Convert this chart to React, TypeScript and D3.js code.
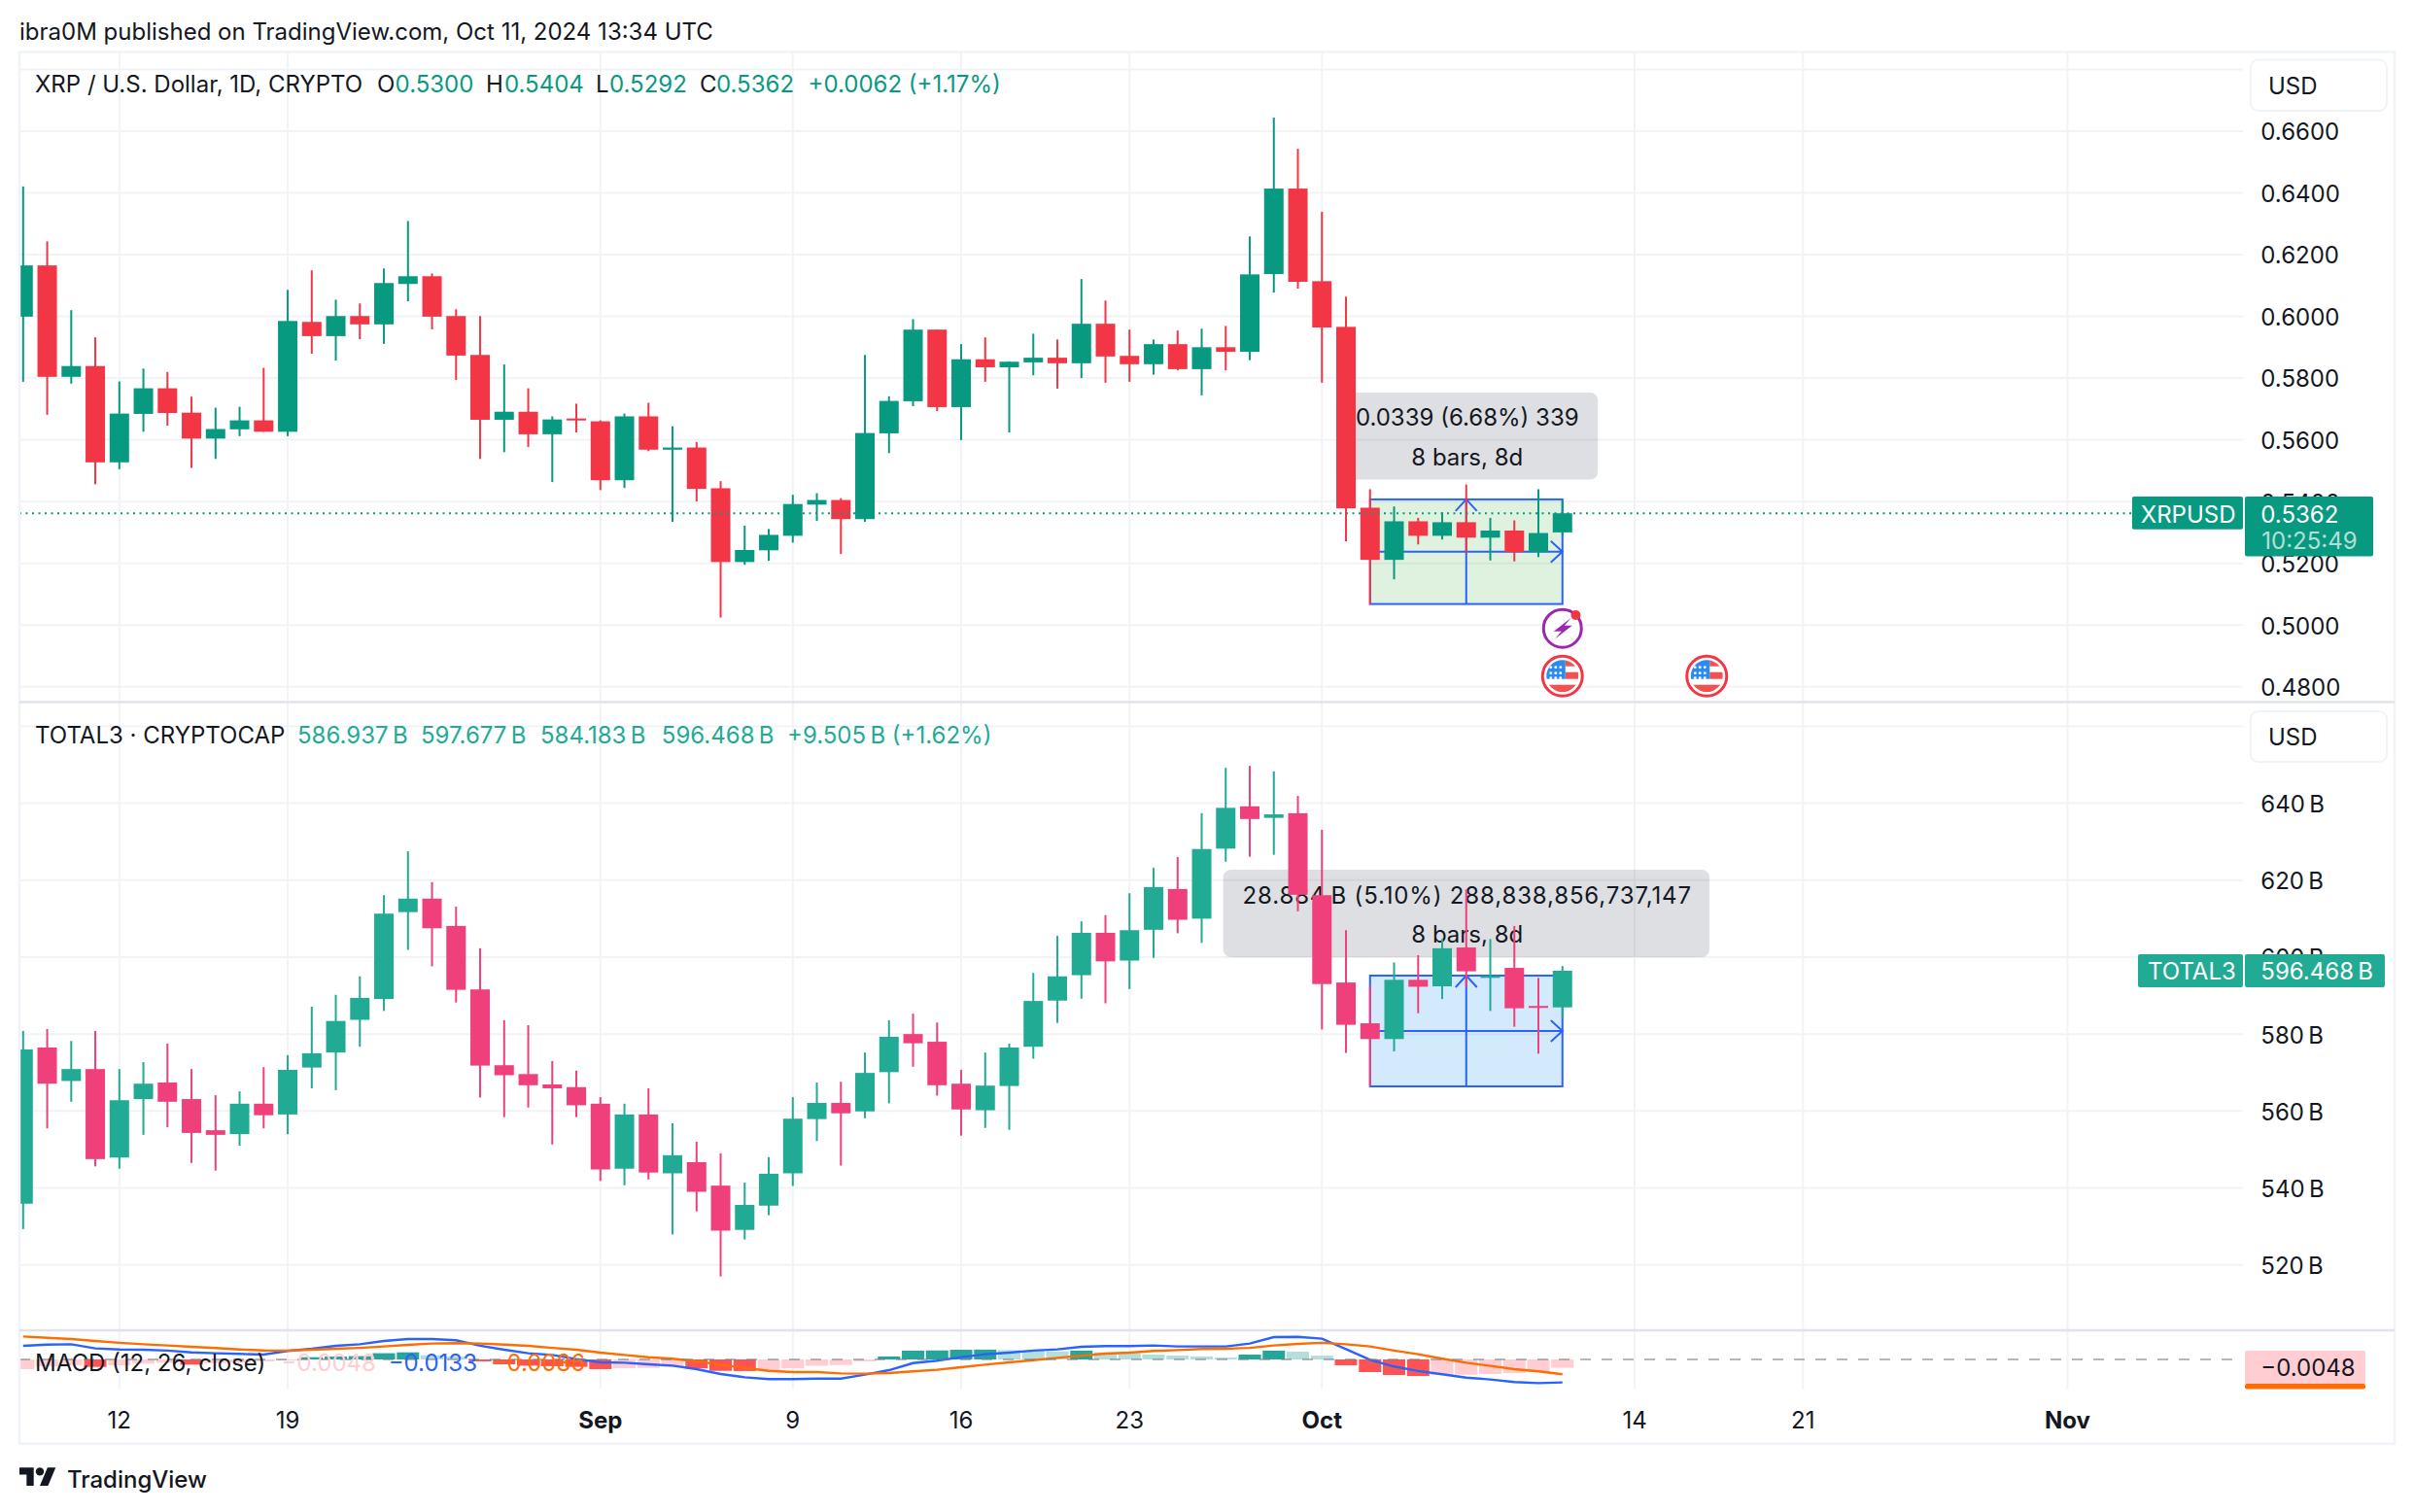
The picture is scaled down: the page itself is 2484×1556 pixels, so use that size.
import * as React from 'react'
import { useEffect, useRef } from 'react'
import * as d3 from 'd3'

const WIDTH = 2484
const HEIGHT = 1556
const FONT = 'Inter, "Noto Sans", sans-serif'

// day index 0 = Aug 8, 2024
const timeDays = [4, 11, 24, 32, 39, 46, 54, 67, 74, 85]
const timeLabels = ['12', '19', 'Sep', '9', '16', '23', 'Oct', '14', '21', 'Nov']
const monthLabels = ['Sep', 'Oct', 'Nov']

const xrpTicks = [0.68, 0.66, 0.64, 0.62, 0.6, 0.58, 0.56, 0.54, 0.52, 0.5, 0.48]
const total3Ticks = [660, 640, 620, 600, 580, 560, 540, 520]

const xrpOpen = [
  0.5999, 0.6165, 0.5804, 0.5839, 0.5527, 0.5684, 0.5767, 0.5688, 0.5604, 0.5634, 0.5663, 0.5626, 0.5982,
  0.5936, 0.6001, 0.5974, 0.6105, 0.613, 0.6001, 0.5875, 0.5665, 0.5691, 0.5618, 0.5669, 0.566, 0.5469,
  0.5676, 0.5568, 0.5575, 0.5443, 0.5204, 0.5242, 0.5289, 0.539, 0.5405, 0.5343, 0.5621, 0.5725, 0.5957,
  0.5706, 0.5861, 0.5835, 0.5851, 0.5866, 0.5848, 0.5976, 0.5872, 0.5845, 0.591, 0.5829, 0.59, 0.5885,
  0.6137, 0.6414, 0.6114, 0.5966, 0.538, 0.5211, 0.5336, 0.5289, 0.5333, 0.5283, 0.5306, 0.5236, 0.53,
]
const xrpHigh = [
  0.6421, 0.6243, 0.602, 0.5932, 0.5789, 0.5831, 0.582, 0.574, 0.5704, 0.5707, 0.5833, 0.6086, 0.6149,
  0.6054, 0.6042, 0.6155, 0.6309, 0.6139, 0.6023, 0.6001, 0.5844, 0.5767, 0.5676, 0.5717, 0.5663, 0.5685,
  0.572, 0.5644, 0.5593, 0.5466, 0.5322, 0.5311, 0.5422, 0.5427, 0.5411, 0.5875, 0.5741, 0.5991, 0.5957,
  0.591, 0.5932, 0.5854, 0.5944, 0.5925, 0.6121, 0.6051, 0.5957, 0.5925, 0.5954, 0.596, 0.5969, 0.6259,
  0.6644, 0.6543, 0.6339, 0.6064, 0.544, 0.5384, 0.5347, 0.5365, 0.5455, 0.5347, 0.5339, 0.544, 0.5404,
]
const xrpLow = [
  0.5788, 0.5681, 0.5782, 0.5456, 0.5505, 0.5626, 0.5646, 0.5509, 0.5538, 0.5612, 0.5626, 0.5612, 0.5879,
  0.5857, 0.5926, 0.5911, 0.6049, 0.5958, 0.5794, 0.5538, 0.556, 0.5577, 0.5463, 0.5624, 0.5437, 0.5444,
  0.5563, 0.5334, 0.54, 0.5024, 0.5195, 0.5208, 0.5267, 0.5337, 0.523, 0.5334, 0.5557, 0.5709, 0.5693,
  0.5599, 0.5788, 0.5624, 0.5809, 0.5766, 0.58, 0.5785, 0.5788, 0.5811, 0.5825, 0.5744, 0.5825, 0.5858,
  0.6077, 0.609, 0.5785, 0.5271, 0.5066, 0.5148, 0.5261, 0.5277, 0.5234, 0.5209, 0.5206, 0.522, 0.5292,
]
const xrpClose = [
  0.6165, 0.5804, 0.5839, 0.5527, 0.5685, 0.5767, 0.5687, 0.5604, 0.5635, 0.5663, 0.5626, 0.5985, 0.5936,
  0.6001, 0.5974, 0.6108, 0.613, 0.5999, 0.5873, 0.5665, 0.5691, 0.5618, 0.5666, 0.5663, 0.5469, 0.5676,
  0.5568, 0.5575, 0.5441, 0.5204, 0.5243, 0.5292, 0.5392, 0.5405, 0.5343, 0.5622, 0.5726, 0.5957, 0.5706,
  0.5861, 0.5835, 0.5853, 0.5866, 0.5848, 0.5976, 0.587, 0.5845, 0.591, 0.5829, 0.59, 0.5885, 0.6136,
  0.6414, 0.6112, 0.5964, 0.5378, 0.5211, 0.5336, 0.5289, 0.5333, 0.5283, 0.5306, 0.5236, 0.5298, 0.5362,
]

const total3Open = [
  535.9, 576.5, 567.8, 570.9, 547.9, 563.1, 567.4, 563.1, 555.0, 554.0, 561.9, 559.1, 571.3, 575.2, 583.7,
  589.1, 611.7, 615.2, 608.1, 591.6, 571.9, 569.6, 566.9, 566.2, 561.9, 545.0, 559.1, 543.8, 546.7, 540.6,
  529.1, 535.4, 543.8, 557.9, 562.1, 559.9, 570.1, 580.0, 578.0, 567.1, 560.2, 566.5, 576.7, 588.7, 595.3,
  606.3, 599.1, 607.1, 617.7, 610.0, 628.2, 639.2, 636.2, 637.4, 616.1, 593.4, 582.8, 578.7, 594.1, 592.4,
  602.5, 594.8, 597.2, 587.3, 586.937,
]
const total3High = [
  580.8, 581.3, 578.2, 580.8, 570.9, 572.7, 577.5, 570.9, 564.1, 565.1, 571.4, 574.5, 587.1, 590.2, 595.0,
  616.1, 627.5, 619.5, 613.1, 602.3, 583.6, 582.3, 573.0, 570.5, 563.6, 561.9, 565.9, 556.8, 552.0, 549.0,
  541.4, 548.0, 563.6, 567.4, 567.6, 575.2, 583.6, 585.3, 583.0, 570.7, 575.2, 577.5, 595.9, 605.5, 609.3,
  610.9, 616.6, 623.2, 626.0, 637.4, 649.2, 649.7, 648.3, 641.9, 633.1, 607.0, 592.5, 598.6, 600.5, 604.7,
  617.6, 604.7, 608.1, 594.6, 597.677,
]
const total3Low = [
  529.3, 555.5, 562.4, 545.6, 545.0, 553.8, 555.8, 546.5, 544.5, 551.0, 555.5, 554.0, 565.9, 565.4, 576.7,
  586.0, 601.9, 597.6, 588.2, 563.5, 558.4, 560.9, 551.3, 558.4, 541.8, 540.7, 542.2, 527.9, 533.9, 517.0,
  526.6, 532.9, 540.5, 552.2, 545.8, 558.1, 562.0, 571.5, 564.0, 553.6, 555.6, 555.1, 573.6, 582.9, 589.2,
  588.0, 591.7, 599.8, 606.2, 603.7, 624.8, 626.1, 626.6, 611.9, 581.2, 575.1, 566.5, 575.5, 585.4, 589.1,
  592.2, 586.0, 581.9, 574.9, 584.183,
]
const total3Close = [
  576.0, 567.1, 570.9, 547.5, 562.8, 567.1, 562.4, 554.3, 553.8, 561.9, 558.9, 570.7, 575.0, 583.4, 589.4,
  611.3, 615.2, 607.5, 591.5, 571.8, 569.3, 566.7, 565.9, 561.5, 544.8, 559.1, 544.0, 548.5, 539.0, 528.9,
  535.6, 543.7, 558.0, 562.1, 559.4, 569.9, 579.3, 577.6, 566.7, 560.4, 566.6, 576.5, 588.6, 595.0, 606.3,
  598.9, 607.0, 618.2, 609.7, 628.1, 638.8, 635.9, 637.1, 616.2, 593.0, 582.4, 578.7, 594.1, 592.3, 602.3,
  596.3, 595.1, 586.7, 586.8, 596.468,
]

const macdHist = [
  -0.0056, -0.004, -0.0034, -0.0043, -0.0034, -0.0024, -0.0019, -0.003, -0.0021, -0.0019, -0.0011, -0.0006,
  0.0013, 0.0017, 0.0019, 0.0036, 0.0041, 0.0024, 0.0017, -0.0011, -0.0028, -0.0036, -0.0039, -0.0043,
  -0.0056, -0.0051, -0.0049, -0.0043, -0.0052, -0.0066, -0.0067, -0.0064, -0.0052, -0.0037, -0.0032, -0.0011,
  0.0017, 0.0051, 0.0052, 0.0056, 0.0057, 0.0054, 0.0049, 0.0047, 0.0051, 0.0041, 0.0036, 0.0028, 0.0022,
  0.0017, 0.0011, 0.0028, 0.0051, 0.0045, 0.0022, -0.0034, -0.0073, -0.009, -0.0096, -0.009, -0.0088, -0.0084,
  -0.0079, -0.0073, -0.0048,
]
const macdLine = [
  0.0079, 0.0086, 0.0088, 0.0064, 0.0058, 0.0056, 0.0051, 0.0041, 0.0036, 0.0032, 0.0028, 0.0049, 0.0062,
  0.0079, 0.0088, 0.0107, 0.0118, 0.0118, 0.0111, 0.0079, 0.0056, 0.0036, 0.0026, 0.0002, -0.0017, -0.0019,
  -0.0028, -0.0036, -0.0056, -0.0084, -0.0103, -0.0114, -0.0114, -0.0111, -0.0111, -0.0088, -0.0062, -0.0021,
  -0.0007, 0.0013, 0.003, 0.0039, 0.0051, 0.0058, 0.0073, 0.0077, 0.0077, 0.0081, 0.0075, 0.0075, 0.0075,
  0.0092, 0.0129, 0.0131, 0.012, 0.006, -0.0002, -0.0041, -0.0067, -0.0086, -0.0105, -0.0116, -0.0131, -0.0137,
  -0.0133,
]
const signalLine = [
  0.0133, 0.0125, 0.0118, 0.0107, 0.0096, 0.0088, 0.0081, 0.0073, 0.0066, 0.0058, 0.0052, 0.0051, 0.0056,
  0.0062, 0.0067, 0.0075, 0.0084, 0.0092, 0.0094, 0.0092, 0.0086, 0.0079, 0.0067, 0.0056, 0.0039, 0.0026,
  0.0013, 0.0004, -0.0011, -0.003, -0.0049, -0.0066, -0.0073, -0.0073, -0.0081, -0.0082, -0.0079, -0.0069,
  -0.006, -0.0045, -0.003, -0.0017, -0.0004, 0.0009, 0.0022, 0.0034, 0.0039, 0.0049, 0.0054, 0.006, 0.0062,
  0.0067, 0.0081, 0.009, 0.0096, 0.0088, 0.0075, 0.0051, 0.003, 0.0004, -0.0019, -0.0037, -0.0056, -0.0069,
  -0.0086,
]

// measure tool: first and last bar, price from / to
const measureDays = [56, 64]
const xrpMeasure = [0.5068, 0.5407]
const total3Measure = [566.4, 595.2]
const eventDays = [64, 70]

type G = d3.Selection<SVGGElement, unknown, null, undefined>

function label(g: G, x: number, y: number, text: string, fill = '#131722', size = 24, weight = 400, anchor = 'start') {
  return g.append('text')
    .attr('x', x)
    .attr('y', y)
    .attr('dy', '.39em')
    .attr('fill', fill)
    .attr('font-size', size)
    .attr('font-weight', weight)
    .attr('text-anchor', anchor)
    .text(text)
}

export default function App() {
  const svgRef = useRef<SVGSVGElement>(null)

  useEffect(() => {
    if (!svgRef.current) return
    const svg = d3.select(svgRef.current)
    svg.selectAll('*').remove()
    const root = svg.append('g').attr('font-family', FONT) as unknown as G

    const left = 20
    const right = 2464
    const plotRight = 2308
    const top = 53.5
    const gridBottom = 1429.5
    const bottom = 1485.7
    const pane1Bottom = 722.5
    const pane2Bottom = 1369
    const axisX = 2326.3

    const x = d3.scaleLinear().domain([4, 85]).range([122.8, 2127.5])
    const yXrp = d3.scaleLinear().domain([0.66, 0.48]).range([135, 706.7])
    const yTotal = d3.scaleLinear().domain([640, 520]).range([826.6, 1301.7])
    const yMacd = d3.scaleLinear().domain([0, -0.0133]).range([1399, 1422.67])

    const defs = svg.append('defs')
    const clips: [string, number, number][] = [
      ['pane1', top, pane1Bottom],
      ['pane2', pane1Bottom + 1, pane2Bottom],
      ['pane3', pane2Bottom + 1, gridBottom],
    ]
    clips.forEach(([id, y0, y1]) => {
      defs.append('clipPath').attr('id', id).append('rect')
        .attr('x', left + 1).attr('y', y0).attr('width', plotRight - left - 1).attr('height', y1 - y0)
    })
    defs.append('clipPath').attr('id', 'flagClip').append('circle').attr('r', 16.5)

    // grid
    const grid = root.append('g').attr('stroke', '#f2f3f6').attr('stroke-width', 2)
    grid.selectAll('.v').data(timeDays).join('line')
      .attr('x1', d => x(d)).attr('x2', d => x(d)).attr('y1', top).attr('y2', gridBottom)
    const hGrid = (ticks: number[], y: d3.ScaleLinear<number, number>, clip: string) => {
      grid.append('g').attr('clip-path', `url(#${clip})`).selectAll('line').data(ticks).join('line')
        .attr('x1', left).attr('x2', plotRight).attr('y1', d => y(d)).attr('y2', d => y(d))
    }
    hGrid(xrpTicks, yXrp, 'pane1')
    hGrid(total3Ticks, yTotal, 'pane2')

    // measure tools sit under the candles
    const measure = (
      y: d3.ScaleLinear<number, number>, prices: number[], fill: string,
      box: number[], lines: string[], lineY: number[], spacing: number,
    ) => {
      const g = root.append('g')
      const x0 = x(measureDays[0])
      const x1 = x(measureDays[1])
      const xm = (x0 + x1) / 2
      const yTop = y(prices[1])
      const yBot = y(prices[0])
      const ym = (yTop + yBot) / 2
      g.append('rect').attr('x', x0).attr('y', yTop).attr('width', x1 - x0).attr('height', yBot - yTop)
        .attr('fill', fill).attr('stroke', '#2962ff').attr('stroke-width', 2)
      const stroke = g.append('g').attr('stroke', '#2962ff').attr('stroke-width', 2).attr('fill', 'none')
      stroke.append('path').attr('d', `M${xm},${yBot}V${yTop}M${xm - 11},${yTop + 12}L${xm},${yTop}L${xm + 11},${yTop + 12}`)
      stroke.append('path').attr('d', `M${x0},${ym}H${x1}M${x1 - 12},${ym - 11}L${x1},${ym}L${x1 - 12},${ym + 11}`)
      g.append('rect').attr('x', box[0]).attr('y', box[1]).attr('width', box[2]).attr('height', box[3]).attr('rx', 8)
        .attr('fill', 'rgba(30,35,55,0.14)')
        .style('filter', 'drop-shadow(0 2px 3px rgba(0,0,0,0.06))')
      label(g as G, xm + 1, lineY[0], lines[0], '#131722', 24, 400, 'middle').attr('letter-spacing', spacing)
      label(g as G, xm + 1, lineY[1], lines[1], '#131722', 24, 400, 'middle')
    }
    measure(yXrp, xrpMeasure, 'rgba(76,175,80,0.18)', [1375.3, 404, 268.9, 89.5],
      ['0.0339 (6.68%) 339', '8 bars, 8d'], [429, 470], 0)
    measure(yTotal, total3Measure, 'rgba(33,150,243,0.2)', [1258.6, 895, 500.4, 90],
      ['28.884\u202fB (5.10%) 288,838,856,737,147', '8 bars, 8d'], [920.7, 961], 0.85)

    // candles
    const candles = (
      clip: string, y: d3.ScaleLinear<number, number>,
      open: number[], high: number[], low: number[], close: number[], up: string, down: string,
    ) => {
      const g = root.append('g').attr('clip-path', `url(#${clip})`)
      const bars = g.selectAll('g').data(open.map((_, i) => i)).join('g')
        .attr('fill', i => (close[i] >= open[i] ? up : down))
      bars.append('rect').attr('x', i => x(i) - 1).attr('width', 2)
        .attr('y', i => y(high[i])).attr('height', i => y(low[i]) - y(high[i]))
      bars.append('rect').attr('x', i => x(i) - 10).attr('width', 20)
        .attr('y', i => y(Math.max(open[i], close[i])))
        .attr('height', i => Math.max(2, Math.abs(y(open[i]) - y(close[i]))))
    }
    candles('pane1', yXrp, xrpOpen, xrpHigh, xrpLow, xrpClose, '#089981', '#f23645')
    candles('pane2', yTotal, total3Open, total3High, total3Low, total3Close, '#22ab94', '#ef407c')

    // last price line, XRP only
    const lastY = yXrp(xrpClose[xrpClose.length - 1])
    root.append('line').attr('x1', left).attr('x2', 2194).attr('y1', lastY).attr('y2', lastY)
      .attr('stroke', '#089981').attr('stroke-width', 2).attr('stroke-dasharray', '2 4.5')

    // MACD pane
    const macd = root.append('g').attr('clip-path', 'url(#pane3)')
    macd.selectAll('rect').data(macdHist).join('rect')
      .attr('x', (_, i) => x(i) - 11.5).attr('width', 23)
      .attr('y', d => Math.min(yMacd(d), yMacd(0)))
      .attr('height', d => Math.abs(yMacd(d) - yMacd(0)))
      .attr('fill', (d, i) => {
        const prev = i ? macdHist[i - 1] : d
        if (d >= 0) return d > prev ? '#26a69a' : '#b2dfdb'
        return d < prev ? '#ff5252' : '#ffcdd2'
      })
    root.append('line').attr('x1', left).attr('x2', plotRight).attr('y1', yMacd(0)).attr('y2', yMacd(0))
      .attr('stroke', '#787b86').attr('stroke-opacity', 0.55).attr('stroke-width', 2).attr('stroke-dasharray', '11 11')
    const line = d3.line<number>().x((_, i) => x(i)).y(d => yMacd(d)).curve(d3.curveLinear)
    macd.append('path').attr('d', line(macdLine)).attr('fill', 'none').attr('stroke', '#2962ff').attr('stroke-width', 2.4)
    macd.append('path').attr('d', line(signalLine)).attr('fill', 'none').attr('stroke', '#ff6d00').attr('stroke-width', 2.4)

    // frame and pane dividers
    const frame = root.append('g').attr('stroke-width', 2.5)
    frame.append('rect').attr('x', left).attr('y', top).attr('width', right - left).attr('height', bottom - top)
      .attr('fill', 'none').attr('stroke', '#f0f3fa')
    ;[pane1Bottom, pane2Bottom].forEach(y => {
      frame.append('line').attr('x1', left).attr('x2', right).attr('y1', y).attr('y2', y).attr('stroke', '#e0e3eb')
    })

    // price axes
    const priceAxis = (axis: d3.Axis<d3.NumberValue>) => {
      const g = root.append('g').attr('transform', `translate(${axisX},0)`)
      g.call(axis.tickSize(0).tickPadding(0).offset(0) as any)
      g.select('.domain').remove()
      g.attr('font-family', FONT).attr('font-size', 24)
      g.selectAll('text').attr('fill', '#131722').attr('dy', '.39em')
    }
    priceAxis(d3.axisRight(yXrp).tickValues(xrpTicks).tickFormat(d3.format('.4f') as any))
    priceAxis(d3.axisRight(yTotal).tickValues(total3Ticks).tickFormat(d => `${d}\u202fB`))
    label(root, axisX, yMacd(0), '0.0000')

    // time axis
    const timeAxis = root.append('g').attr('transform', 'translate(0,1460.7)')
    timeAxis.call(d3.axisBottom(x).tickValues(timeDays).tickSize(0).tickPadding(0).offset(0)
      .tickFormat((_, i) => timeLabels[i]) as any)
    timeAxis.select('.domain').remove()
    timeAxis.attr('font-family', FONT).attr('font-size', 24)
    timeAxis.selectAll('text').attr('fill', '#131722').attr('y', 0).attr('dy', '.39em')
      .attr('font-weight', (_, i) => (monthLabels.includes(timeLabels[i]) ? 700 : 400))

    // currency buttons
    ;[[61.5, 114, 87.5], [732, 784, 757.8]].forEach(([y0, y1, yt]) => {
      root.append('rect').attr('x', 2315.8).attr('y', y0).attr('width', 140.2).attr('height', y1 - y0).attr('rx', 8)
        .attr('fill', '#fff').attr('stroke', '#f0f3fa').attr('stroke-width', 2)
      label(root, 2334, yt, 'USD')
    })

    // last value tags
    const tag = (x0: number, x1: number, y0: number, y1: number, fill: string) => {
      root.append('rect').attr('x', x0).attr('y', y0).attr('width', x1 - x0).attr('height', y1 - y0).attr('rx', 2).attr('fill', fill)
    }
    tag(2193.9, 2308, 511, 544.7, '#089981')
    tag(2310, 2442, 511, 572.6, '#089981')
    label(root, 2202.8, lastY, 'XRPUSD', '#fff')
    label(root, axisX, lastY, '0.5362', '#fff')
    label(root, axisX + 1, 555.4, '10:25:49', 'rgba(255,255,255,0.7)')
    tag(2200, 2308, 982, 1016, '#22ab94')
    tag(2310, 2454, 982, 1016, '#22ab94')
    label(root, 2210, 999, 'TOTAL3', '#fff')
    label(root, axisX, 999, '596.468\u202fB', '#fff')
    tag(2310, 2434, 1390, 1424, '#ffcdd2')
    tag(2310, 2434, 1424, 1429.5, '#ff6d00')
    label(root, axisX, 1406.7, '\u22120.0048')

    // events
    const bolt = root.append('g').attr('transform', `translate(${x(eventDays[0])},646.7)`)
    bolt.append('circle').attr('r', 19.5).attr('fill', '#fff').attr('stroke', '#9c27b0').attr('stroke-width', 3)
    bolt.append('path').attr('d', 'M9,-11L-9,3H-1L-8,11L10,-3H2Z').attr('fill', '#9c27b0')
    bolt.append('circle').attr('cx', 13.7).attr('cy', -13.7).attr('r', 5).attr('fill', '#f23645')
    eventDays.forEach(d => {
      const flag = root.append('g').attr('transform', `translate(${x(d)},695.7)`)
      flag.append('circle').attr('r', 20.5).attr('fill', '#fff').attr('stroke', '#f23645').attr('stroke-width', 3)
      const inner = flag.append('g').attr('clip-path', 'url(#flagClip)')
      inner.append('rect').attr('x', -17).attr('y', 9).attr('width', 34).attr('height', 8).attr('fill', '#f05252')
      inner.append('rect').attr('x', 3).attr('y', -4).attr('width', 14).attr('height', 7).attr('fill', '#f05252')
      inner.append('rect').attr('x', 3).attr('y', -17).attr('width', 14).attr('height', 7).attr('fill', '#f05252')
      inner.append('rect').attr('x', -17).attr('y', -17).attr('width', 20).attr('height', 20).attr('fill', '#2a8cf0')
      ;[-9, -3, 2].forEach(cy => [-12, -7, -2].forEach(cx => {
        inner.append('circle').attr('cx', cx).attr('cy', cy).attr('r', 1.4).attr('fill', '#fff')
      }))
    })

    // legends
    const segs = (y: number, items: [number, string, string][]) => {
      items.forEach(([lx, t, fill]) => label(root, lx, y, t, fill))
    }
    const up1 = '#089981'
    const up2 = '#22ab94'
    const ink = '#131722'
    segs(85.7, [
      [36, 'XRP / U.S. Dollar, 1D, CRYPTO', ink],
      [388, 'O', ink], [406.6, '0.5300', up1],
      [500, 'H', ink], [519, '0.5404', up1],
      [613, 'L', ink], [627, '0.5292', up1],
      [720, 'C', ink], [737, '0.5362', up1],
      [831.6, '+0.0062 (+1.17%)', up1],
    ])
    segs(755.7, [
      [36, 'TOTAL3 \u00b7 CRYPTOCAP', ink],
      [306, '586.937\u202fB', up2],
      [433, '597.677\u202fB', up2],
      [556, '584.183\u202fB', up2],
      [680.8, '596.468\u202fB', up2],
      [810, '+9.505\u202fB (+1.62%)', up2],
    ])
    segs(1401.7, [
      [36, 'MACD (12, 26, close)', ink],
      [289.6, '\u22120.0048', '#ffcdd2'],
      [399.7, '\u22120.0133', '#2962ff'],
      [505.5, '\u22120.0086', '#ff6d00'],
    ])

    // header and footer
    label(root, 20, 31.7, 'ibra0M published on TradingView.com, Oct 11, 2024 13:34 UTC')
    const logo = root.append('g').attr('transform', 'translate(20,1506) scale(1.05)').attr('fill', '#131722')
    logo.append('path').attr('d', 'M14 22H7V11H0V4h14v18zM28 22h-8l7.5-18h8L28 22z')
    logo.append('circle').attr('cx', 20).attr('cy', 8).attr('r', 4)
    label(root, 69, 1521.7, 'TradingView', '#131722', 24, 500)
  }, [])

  return (
    <svg
      ref={svgRef}
      width={WIDTH}
      height={HEIGHT}
      style={{ position: 'absolute', top: 0, left: 0, background: '#fff' }}
    />
  )
}
